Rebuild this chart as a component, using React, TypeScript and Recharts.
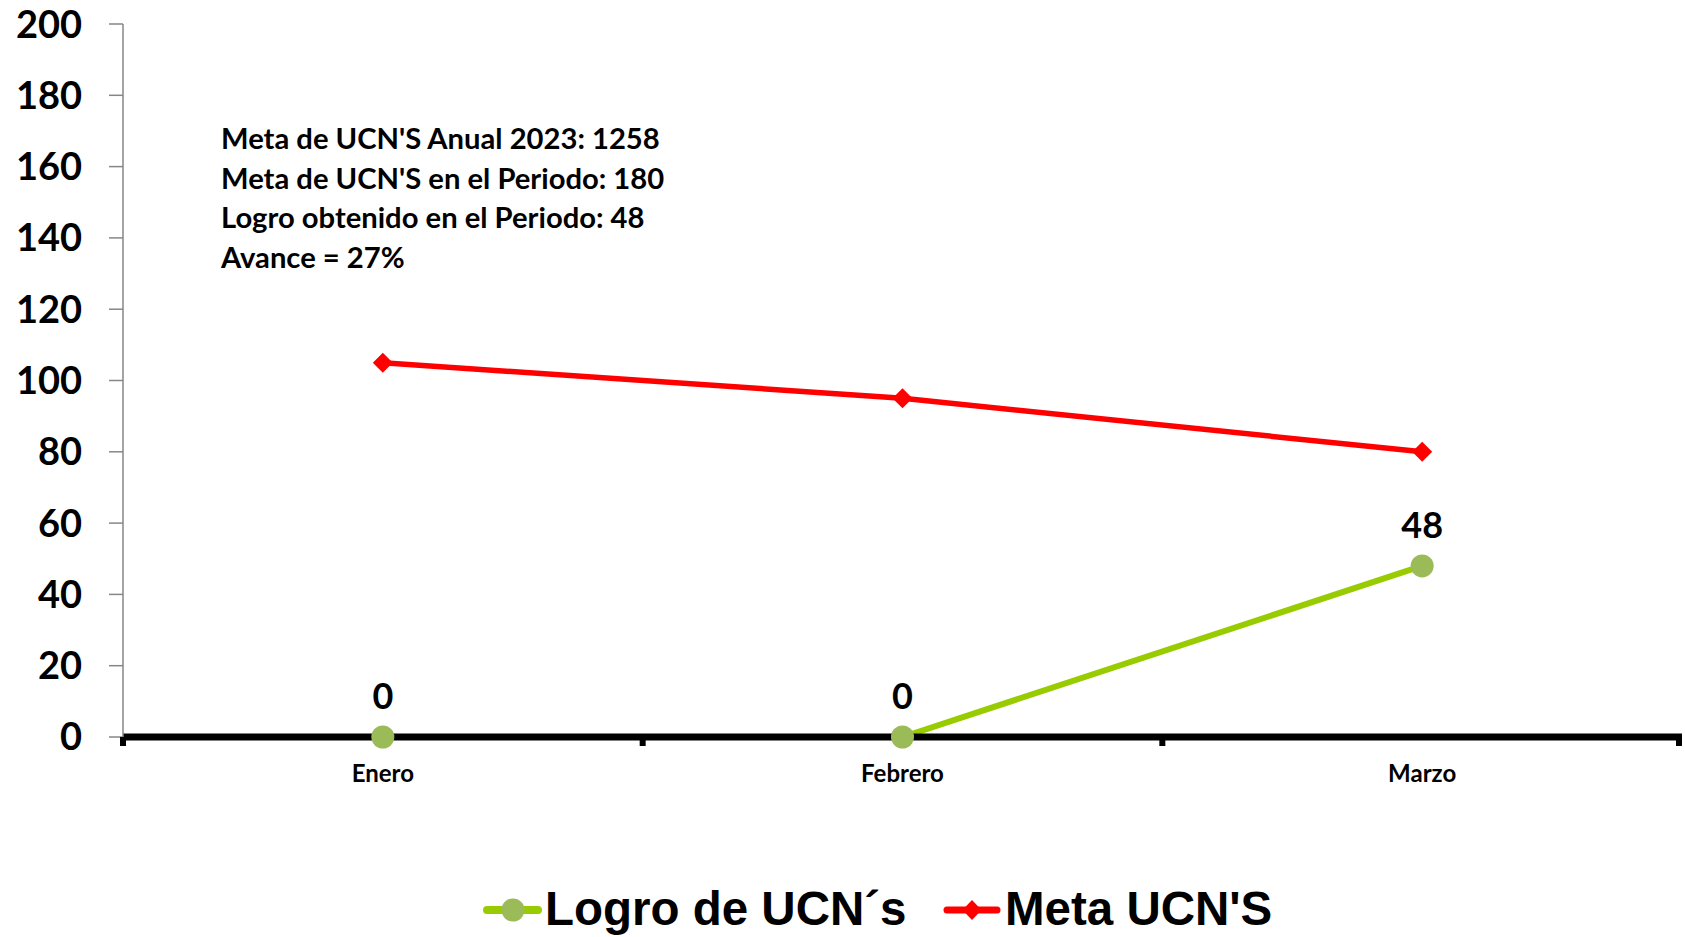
import { LineChart, Line, XAxis, YAxis, LabelList } from "recharts";

const months = ["Enero", "Febrero", "Marzo"];
const logroValues = [0, 0, 48];
const metaValues = [105, 95, 80];
const yTicks = [0, 20, 40, 60, 80, 100, 120, 140, 160, 180, 200];
const noteLines = [
  "Meta de UCN'S Anual 2023: 1258",
  "Meta de UCN'S en el Periodo: 180",
  "Logro obtenido en el Periodo: 48",
  "Avance = 27%",
];
const legendNames = ["Logro de UCN´s", "Meta UCN'S"];

const W = 1685;
const H = 937;
const Y_AXIS_W = 123;
const MARGIN = { top: 24, right: 3, bottom: 140, left: 0 };
const PLOT_W = W - MARGIN.left - MARGIN.right - Y_AXIS_W;
const BAND = PLOT_W / months.length;

const GREEN_LINE = "#99CC00";
const GREEN_DOT = "#9BBB59";
const RED = "#FF0000";

const data = months.map((mes, i) => ({ mes, logro: logroValues[i], meta: metaValues[i] }));

// month label plus the small black marks at the band edges
const MonthTick = (props: any) => {
  const { x, y, payload, index } = props;
  const half = BAND / 2;
  return (
    <g>
      <rect x={x - half - 3} y={y} width={6} height={9} fill="#000" />
      {index === months.length - 1 && (
        <rect x={x + half - 6} y={y} width={6} height={9} fill="#000" />
      )}
      <text
        x={x}
        y={y + 45}
        textAnchor="middle"
        fill="#000"
        fontSize={24}
        fontWeight={700}
        fontFamily="Lato"
      >
        {payload.value}
      </text>
    </g>
  );
};

const GreenDot = (props: any) => {
  const { cx, cy, index } = props;
  return <circle key={`g-${index}`} cx={cx} cy={cy} r={11.5} fill={GREEN_DOT} />;
};

const RedDot = (props: any) => {
  const { cx, cy, index } = props;
  return (
    <path
      key={`r-${index}`}
      d={`M${cx},${cy - 10} L${cx + 10},${cy} L${cx},${cy + 10} L${cx - 10},${cy} Z`}
      fill={RED}
    />
  );
};

export default function App() {
  return (
    <div style={{ position: "relative", width: W, height: H, background: "#fff" }}>
      <style>{`body{margin:0}`}</style>
      <LineChart width={W} height={H} data={data} margin={MARGIN}>
        <XAxis
          dataKey="mes"
          height={60}
          padding={{ left: BAND / 2, right: BAND / 2 }}
          axisLine={{ stroke: "#000", strokeWidth: 7 }}
          tickLine={false}
          tickSize={0}
          tickMargin={0}
          tick={<MonthTick />}
          interval={0}
        />
        <YAxis
          width={Y_AXIS_W}
          domain={[0, 200]}
          ticks={yTicks}
          interval={0}
          axisLine={{ stroke: "#868686", strokeWidth: 1.5 }}
          tickLine={{ stroke: "#868686", strokeWidth: 1.5 }}
          tickSize={14}
          tickMargin={27}
          tick={{ fill: "#000", fontSize: 38, fontWeight: 700, fontFamily: "Lato" }}
        />
        <Line
          dataKey="meta"
          name={legendNames[1]}
          stroke={RED}
          strokeWidth={5.5}
          dot={RedDot}
          activeDot={false}
          isAnimationActive={false}
        />
        <Line
          dataKey="logro"
          name={legendNames[0]}
          stroke={GREEN_LINE}
          strokeWidth={6}
          dot={GreenDot}
          activeDot={false}
          isAnimationActive={false}
        >
          <LabelList
            dataKey="logro"
            position="top"
            offset={28}
            fill="#000"
            fontSize={36}
            fontWeight={700}
            fontFamily="Lato"
          />
        </Line>
      </LineChart>
      <svg
        width={W}
        height={H}
        style={{ position: "absolute", left: 0, top: 0, pointerEvents: "none" }}
      >
        {noteLines.map((t, i) => (
          <text
            key={t}
            x={221}
            y={149 + i * 39.7}
            fontSize={29.2}
            fontWeight={700}
            fontFamily="Lato"
            fill="#000"
          >
            {t}
          </text>
        ))}
        <g>
          <line x1={487} y1={910} x2={538} y2={910} stroke={GREEN_LINE} strokeWidth={8} strokeLinecap="round" />
          <circle cx={513} cy={910} r={11.5} fill={GREEN_DOT} />
          <text x={545} y={925} fontSize={47.5} fontWeight={700} fontFamily="Liberation Sans" fill="#000">
            {legendNames[0]}
          </text>
          <line x1={947} y1={910} x2={997} y2={910} stroke={RED} strokeWidth={7} strokeLinecap="round" />
          <path d="M972,900 L981.5,910 L972,920 L962.5,910 Z" fill={RED} />
          <text x={1005} y={925} fontSize={47.5} fontWeight={700} fontFamily="Liberation Sans" fill="#000">
            {legendNames[1]}
          </text>
        </g>
      </svg>
    </div>
  );
}
